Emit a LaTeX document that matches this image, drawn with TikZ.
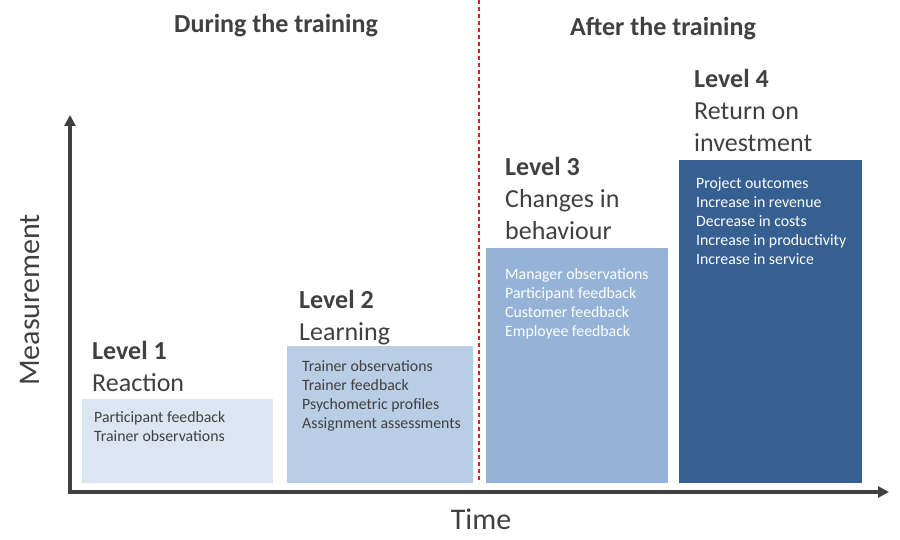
\documentclass[tikz,border=0pt]{standalone}
\usepackage{fontspec}
\setmainfont{Carlito}
\usetikzlibrary{arrows.meta}

\definecolor{textgray}{HTML}{404040}
\definecolor{levelone}{HTML}{DCE6F2}
\definecolor{leveltwo}{HTML}{B9CDE5}
\definecolor{levelthree}{HTML}{95B3D7}
\definecolor{levelfour}{HTML}{376092}
\definecolor{splitred}{HTML}{E02020}

\tikzset{
  heading/.style={font=\fontsize{26}{31}\selectfont\bfseries, text=textgray, inner sep=0pt, anchor=base},
  level/.style={font=\fontsize{26}{32}\selectfont, text=textgray, align=left, anchor=base west, inner sep=0pt},
  items/.style={font=\fontsize{15.8}{19}\selectfont, align=left, anchor=base west, inner sep=0pt},
  axislabel/.style={font=\fontsize{30}{36}\selectfont, text=textgray, inner sep=0pt},
  axis/.style={line width=3.5pt, draw=textgray, line join=miter,
    {Triangle[width=11pt,length=11pt]}-{Triangle[width=11pt,length=11pt]}},
}

\begin{document}
\begin{tikzpicture}[x=1pt, y=-1pt]
    \useasboundingbox (0,0) rectangle (900,540);

    % Headings
    \node[heading] (during) at (276,33) {During the training};
    \node[heading] (after) at (663,36) {After the training};

    % Split between during and after
    \coordinate (splittop) at (479,0);
    \coordinate (splitbot) at (479,483);
    \draw[splitred, line width=1.5pt, dash pattern=on 4pt off 3pt] (splittop) -- (splitbot);

    % Level boxes
    \fill[levelone] (82,399) rectangle (273,483);
    \fill[leveltwo] (287,346) rectangle (473,483);
    \fill[levelthree] (486,248) rectangle (668,483);
    \fill[levelfour] (679,160) rectangle (862,483);

    % Level titles (anchored on the last line)
    \node[level] (title1) at (92,391) {\textbf{Level 1}\\Reaction};
    \node[level] (title2) at (299,340) {\textbf{Level 2}\\Learning};
    \node[level] (title3) at (505,240) {\textbf{Level 3}\\Changes in\\behaviour};
    \node[level] (title4) at (694,152) {\textbf{Level 4}\\Return on\\investment};

    % Measures per level
    \node[items, text=textgray] (items1) at (94,441) {Participant feedback\\Trainer observations};
    \node[items, text=textgray] (items2) at (302,428) {Trainer observations\\Trainer feedback\\Psychometric profiles\\Assignment assessments};
    \node[items, text=white] (items3) at (505,336) {Manager observations\\Participant feedback\\Customer feedback\\Employee feedback};
    \node[items, text=white] (items4) at (696,265) {Project outcomes\\Increase in revenue\\Decrease in costs\\Increase in productivity\\Increase in service};

    % Axes
    \coordinate (origin) at (70,492);
    \coordinate (ytip) at (70,115);
    \coordinate (xtip) at (889,492);
    \draw[axis] (ytip) -- (origin) -- (xtip);
    \node[axislabel] (time) at (481,519) {Time};
    \node[axislabel, rotate=90] (measure) at (30,300) {Measurement};
\end{tikzpicture}
\end{document}
